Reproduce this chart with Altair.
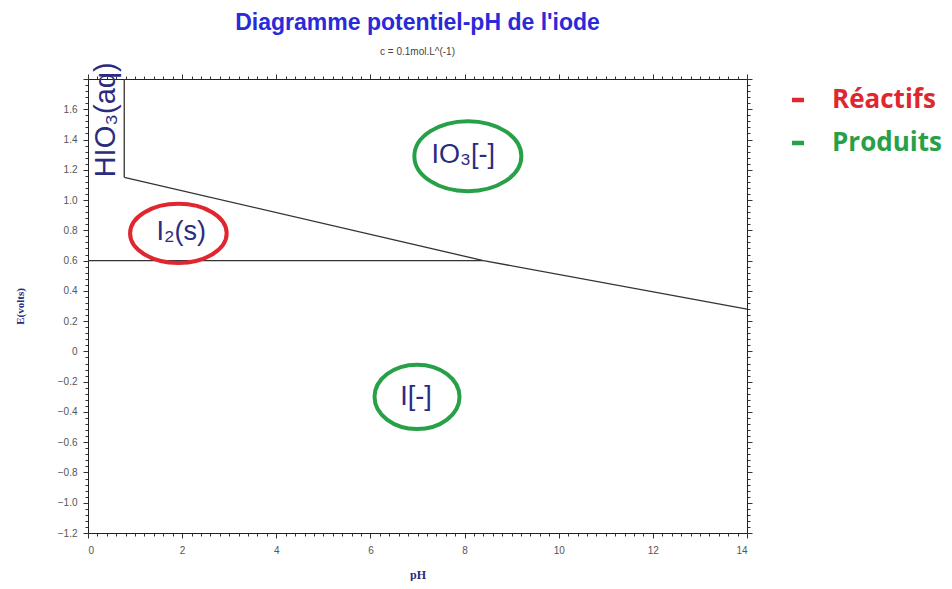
import altair as alt
import pandas as pd

# ---- data -------------------------------------------------------------
# boundary lines of the E-pH diagram (segment name, point order, pH, E)
seg_names = ["HIO3/IO3-", "HIO3/IO3-", "IO3-/I2", "IO3-/I2",
             "IO3-/I-", "IO3-/I-", "I2/I-", "I2/I-"]
seg_order = [0, 1, 0, 1, 0, 1, 0, 1]
seg_ph = [0.77, 0.77, 0.77, 8.4, 8.4, 14.0, 0.0, 8.4]
seg_e = [1.8, 1.15, 1.15, 0.6, 0.6, 0.28, 0.6, 0.6]

# species labels
species = ["HIO₃(aq)", "IO₃[-]", "I₂(s)", "I[-]"]
species_ph = [0.38, 7.97, 1.98, 6.97]
species_e = [1.53, 1.30, 0.79, -0.30]

# circled species (annotation ellipses)
circ_names = ["IO₃[-]", "I₂(s)", "I[-]"]
circ_ph = [8.07, 1.92, 6.99]
circ_e = [1.29, 0.78, -0.30]
circ_role = ["Produits", "Réactifs", "Produits"]

legend_items = ["Réactifs", "Produits"]

x_ticks = [round(i * 0.2, 1) for i in range(71)]
y_ticks = [round(-1.2 + i * 0.04, 2) for i in range(76)]

# ---- tables -----------------------------------------------------------
lines_df = pd.DataFrame({"seg": seg_names, "o": seg_order, "pH": seg_ph, "E": seg_e})
labels_df = pd.DataFrame({"name": species, "pH": species_ph, "E": species_e})
circ_df = pd.DataFrame({"name": circ_names, "pH": circ_ph, "E": circ_e, "role": circ_role})

# ---- styling ----------------------------------------------------------
RED = "#e0262e"
GREEN = "#27a047"
NAVY = "#2b2b80"

def ellipse(w, h):
    r = h / w
    return f"M -1 0 A 1 {r:.3f} 0 1 1 1 0 A 1 {r:.3f} 0 1 1 -1 0 Z"

ell_dims = {"IO₃[-]": (107, 70), "I₂(s)": (85, 52), "I[-]": (74, 56)}

xs = alt.Scale(domain=[0, 14], nice=False)
ys = alt.Scale(domain=[-1.2, 1.8], nice=False)

major_x = "abs(datum.value/2 - round(datum.value/2)) < 0.001"
major_y = "abs(datum.value*5 - round(datum.value*5)) < 0.001"

x_axis = alt.Axis(
    values=x_ticks, title="pH", grid=False,
    labelExpr=f"{major_x} ? format(datum.value, 'd') : ''",
    labelOverlap=False, labelFont="Liberation Sans", labelFontSize=10,
    labelColor="#555", labelPadding=7,
    tickSize={"condition": {"test": major_x, "value": 5}, "value": 3},
    tickColor="#333", domainColor="#222",
    titleFont="Liberation Serif", titleFontWeight="bold", titleFontSize=12,
    titleColor=NAVY, titlePadding=14,
)
y_axis = alt.Axis(
    values=y_ticks, title="E(volts)", grid=False,
    labelExpr=f"({major_y}) && datum.value < 1.7 ? (abs(datum.value) < 0.001 ? '0' : format(datum.value, '.1f')) : ''",
    labelOverlap=False, labelFont="Liberation Sans", labelFontSize=10,
    labelColor="#555", labelPadding=6,
    tickSize={"condition": {"test": major_y, "value": 5}, "value": 3},
    tickColor="#333", domainColor="#222",
    titleFont="Liberation Serif", titleFontWeight="bold", titleFontSize=11,
    titleColor=NAVY, titlePadding=32,
)
x_top = alt.Axis(values=x_ticks, orient="top", labels=False, title=None, grid=False,
                 tickSize={"condition": {"test": major_x, "value": 5}, "value": 3},
                 tickColor="#333", domainColor="#222")
y_right = alt.Axis(values=y_ticks, orient="right", labels=False, title=None, grid=False,
                   tickSize={"condition": {"test": major_y, "value": 5}, "value": 3},
                   tickColor="#333", domainColor="#222")

lines = alt.Chart(lines_df).mark_line(color="#333", strokeWidth=1.3).encode(
    x=alt.X("pH:Q", scale=xs, axis=x_axis),
    y=alt.Y("E:Q", scale=ys, axis=y_axis),
    detail="seg:N",
    order="o:Q",
)

frame = alt.Chart(lines_df).mark_line(opacity=0).encode(
    x=alt.X("pH:Q", scale=xs, axis=x_top),
    y=alt.Y("E:Q", scale=ys, axis=y_right),
    detail="seg:N",
)

ellipses = alt.Chart(circ_df).mark_point(filled=False, strokeWidth=4, opacity=1).encode(
    x=alt.X("pH:Q", scale=xs, axis=None),
    y=alt.Y("E:Q", scale=ys, axis=None),
    shape=alt.Shape("name:N", scale=alt.Scale(domain=circ_names,
                    range=[ellipse(*ell_dims[n]) for n in circ_names]), legend=None),
    size=alt.Size("name:N", scale=alt.Scale(domain=circ_names,
                  range=[ell_dims[n][0] ** 2 for n in circ_names]), legend=None),
    color=alt.Color("role:N", scale=alt.Scale(domain=legend_items, range=[RED, GREEN]),
                    legend=alt.Legend(
                        title=None, orient="none", legendX=697, legendY=8,
                        symbolType="stroke", symbolStrokeWidth=4.5, symbolSize=144,
                        labelFont="Open Sans", labelFontWeight="bold", labelFontSize=26,
                        labelOffset=21, rowPadding=17, labelLimit=300,
                        labelColor={"expr": f"datum.value == 'Réactifs' ? '{RED}' : '{GREEN}'"},
                    )),
)

texts = alt.Chart(labels_df).mark_text(
    font="Liberation Sans", fontSize=27, color=NAVY
).encode(
    x=alt.X("pH:Q", scale=xs, axis=None),
    y=alt.Y("E:Q", scale=ys, axis=None),
    text="name:N",
    size=alt.condition("datum.name == 'HIO₃(aq)'", alt.value(29), alt.value(27)),
    angle=alt.condition("datum.name == 'HIO₃(aq)'", alt.value(270), alt.value(0)),
)

chart = alt.layer(lines, frame, ellipses, texts).resolve_axis(
    x="independent", y="independent"
).properties(
    width=659, height=454,
    padding={"left": 80, "top": 71, "right": 195, "bottom": 48},
    autosize=alt.AutoSizeParams(type="none"),
    title=alt.TitleParams(
        text="Diagramme potentiel-pH de l'iode",
        subtitle="c = 0.1mol.L^(-1)",
        anchor="middle", frame="group",
        font="Liberation Sans", fontSize=23, fontWeight="bold", color="#2a2ad8",
        subtitleFont="Liberation Sans", subtitleFontSize=10, subtitleColor="#444",
        subtitlePadding=12, offset=5,
    ),
).configure_view(stroke=None)

chart.save("out.html", embed_options={"renderer": "svg", "actions": False})
